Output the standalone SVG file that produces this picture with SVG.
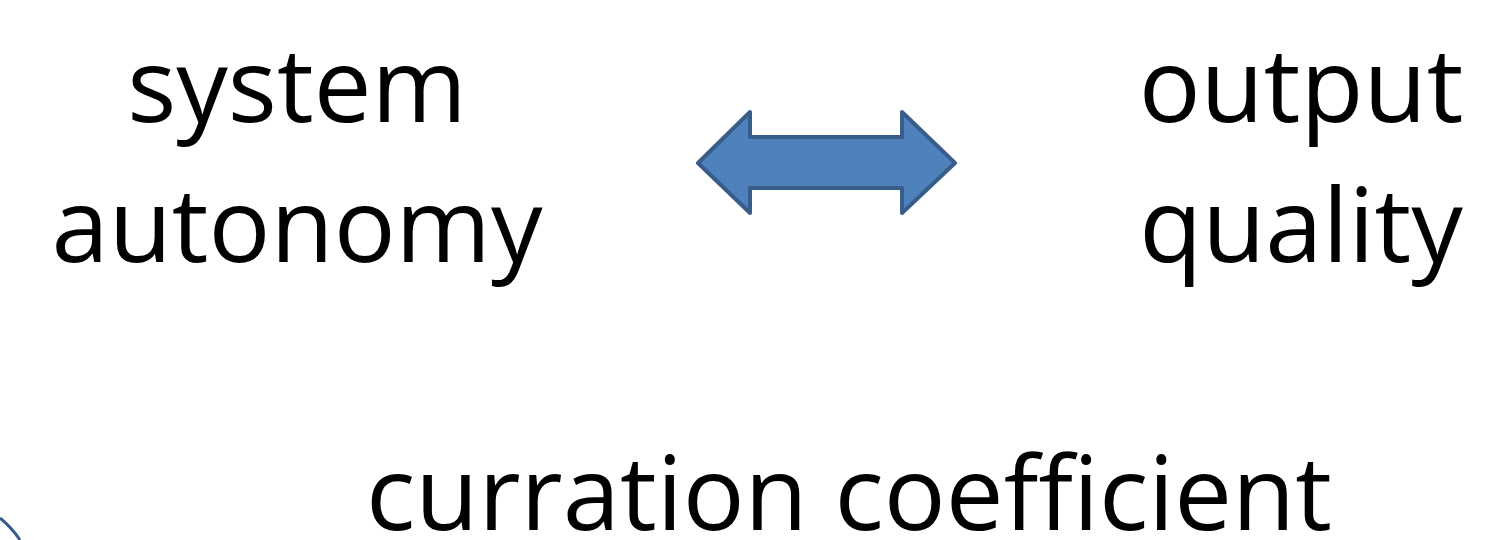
<svg xmlns="http://www.w3.org/2000/svg" width="1499" height="540" viewBox="0 0 1499 540">
<style>
.t{font-family:"Open Sans","Liberation Sans",sans-serif;font-size:103px;fill:#000;text-anchor:middle}
.s{fill:#4F81BD;stroke:#385D8A;stroke-width:4;stroke-linejoin:round}
</style>
<rect width="1499" height="540" fill="#fff"/>
<g id="system-autonomy"><text class="t" x="297" y="122">system</text><text class="t" x="297" y="262">autonomy</text></g>
<g id="output-quality"><text class="t" x="1301" y="122">output</text><text class="t" x="1301" y="262">quality</text></g>
<g id="curration-coefficient"><text class="t" x="849" y="530">curration coefficient</text></g>
<g id="connectors">
<path class="s" d="M698,163 L750,112 L750,137 L902,137 L902,112 L955,163 L902,213 L902,188 L750,188 L750,213 Z"/>
<path d="M0,518 Q12,528 20,540" fill="none" stroke="#385D8A" stroke-width="3"/>
</g>
</svg>
